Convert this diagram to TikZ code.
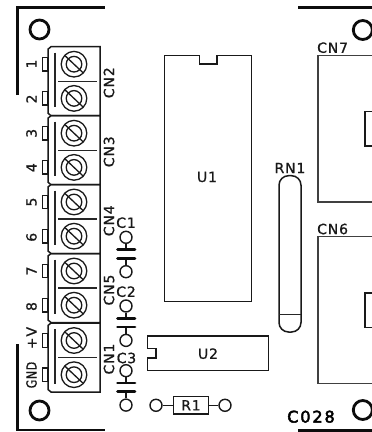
\documentclass[tikz,border=0pt]{standalone}
\usepackage{fontspec}
\setmainfont[LetterSpace=6,FakeBold=1]{DejaVu Sans}
\newfontfamily\boardfont[LetterSpace=12,FakeBold=3]{DejaVu Sans}
\tikzset{
  outline/.style={draw=black!90,line width=1.5pt},
  heavy/.style={draw=black!95,line width=2.8pt},
  thin part/.style={draw=black!85,line width=1.2pt},
  lbl/.style={inner sep=0pt,font=\fontsize{14}{15}\selectfont,text=black!90},
  vlbl/.style={lbl,rotate=90},
  pad/.style={circle,draw=black!90,line width=1.4pt,minimum size=12pt,inner sep=0pt},
  hole/.style={circle,draw=black!95,line width=2.8pt,minimum size=19pt,inner sep=0pt},
  plate/.style={draw=black!95,line width=2.8pt,line cap=round},
  stem/.style={draw=black!90,line width=1.4pt},
}
\begin{document}
\begin{tikzpicture}[x=1pt,y=-1pt]
\useasboundingbox (0,0) rectangle (372,432);
\clip (0,0) rectangle (372,432);
% board outline
\draw[heavy] (17.5,95) -- (17.5,7.5) -- (105,7.5);
\draw[heavy] (17.5,344) -- (17.5,430) -- (105,430);
\draw[heavy] (298,7.5) -- (372,7.5);
\draw[heavy] (298,430.5) -- (372,430.5);
\node[hole] (h1) at (39.5,29.5) {};
\node[hole] (h2) at (39.5,410.5) {};
\node[hole] (h3) at (362.8,30) {};
\node[hole] (h4) at (362.8,410) {};
% terminal blocks
\foreach \t in {46.7,115.7,184.5,253.5,323} {
  \draw[outline] (51,\t) -- (100,\t) -- (100,\t+69) -- (51,\t+69) -- (48,\t+66.5) -- (48,\t+2.5) -- cycle;
  \draw[thin part,line width=1.3pt] (55,\t+6) -- (55,\t+60.5);
  \draw[thin part] (58,\t+34.5) -- (97,\t+34.5);
  \foreach \d in {17.5,51.7} {
    \draw[outline,line width=1.3pt,fill=white] (42.5,\t+\d-6.7) rectangle (48,\t+\d+6.7);
    \draw[outline,line width=1.3pt] (74,\t+\d) circle (12.8);
    \draw[outline,line width=1.3pt] (74,\t+\d) circle (7.8);
    \draw[outline,line width=1.3pt] (65,\t+\d-8.5) -- (83,\t+\d+8.5);
  }
}
% terminal numbers
\node[vlbl] (n1) at (31.5,64) {1};
\node[vlbl] (n2) at (31.5,99) {2};
\node[vlbl] (n3) at (31.5,133.3) {3};
\node[vlbl] (n4) at (31.5,167.7) {4};
\node[vlbl] (n5) at (31.5,202) {5};
\node[vlbl] (n6) at (31.5,237.3) {6};
\node[vlbl] (n7) at (31.5,271) {7};
\node[vlbl] (n8) at (31.5,306.5) {8};
\node[vlbl] (nv) at (31.5,338) {+V};
\node[vlbl] (ng) at (31.5,375) {\scalebox{.78}[1]{GND}};
\node[vlbl] (cn2) at (109,82.7) {CN2};
\node[vlbl] (cn3) at (109,151.7) {CN3};
\node[vlbl] (cn4) at (109,220.7) {CN4};
\node[vlbl] (cn5) at (109,290) {CN5};
\node[vlbl] (cn1) at (109,359) {CN1};
% capacitors
\foreach \n/\o in {a/0,b/68.7,c/133.4} {
  \node[pad] (\n t) at (126,237.3+\o) {};
  \node[pad] (\n b) at (126,271.7+\o) {};
  \coordinate (\n p) at (126,249.5+\o);
  \coordinate (\n q) at (126,258.3+\o);
  \draw[stem] (\n t) -- (\n p);
  \draw[stem] (\n b) -- (\n q);
  \draw[plate] (117.5,249.5+\o) -- (135,249.5+\o);
  \draw[plate] (117.5,258.3+\o) -- (135,258.3+\o);
}
\node[lbl] (c1) at (126,222.7) {C1};
\node[lbl] (c2) at (126,291.7) {C2};
\node[lbl] (c3) at (126.5,358) {C3};
% U1
\draw[outline] (164.7,55.3) -- (199.3,55.3) -- (199.3,64) -- (217,64) -- (217,55.3) -- (251.3,55.3) -- (251.3,301.7) -- (164.7,301.7) -- cycle;
\node[lbl] (u1) at (207,177) {U1};
% RN1
\draw[outline,rounded corners=9.5pt] (279,175.7) rectangle (301,332);
\draw[thin part] (279,314.3) -- (301,314.3);
\node[lbl] (rn1) at (290,168) {RN1};
% U2
\draw[outline] (147.3,336) -- (268.3,336) -- (268.3,370.7) -- (147.3,370.7) -- (147.3,358) -- (156,358) -- (156,348.7) -- (147.3,348.7) -- cycle;
\node[lbl] (u2) at (208,353.7) {U2};
% R1
\node[draw=black!90,line width=1.5pt,minimum width=35pt,minimum height=17.3pt,inner sep=0pt,font=\fontsize{14}{15}\selectfont,text=black!90] (r1) at (191,405.3) {R1};
\node[pad] (ra) at (156,405.3) {};
\node[pad] (rb) at (225,405.3) {};
\draw[stem] (ra) -- (r1);
\draw[stem] (rb) -- (r1);
% CN7, CN6
\draw[draw=black!75,line width=1.4pt] (372,55.3) -- (318,55.3) -- (318,202) -- (372,202);
\draw[outline] (372,111.7) -- (365,111.7) -- (365,146) -- (372,146);
\node[lbl,anchor=west] (cn7) at (317,47.7) {CN7};
\draw[draw=black!75,line width=1.4pt] (372,236.7) -- (318,236.7) -- (318,383.7) -- (372,383.7);
\draw[outline] (372,293) -- (365,293) -- (365,327.3) -- (372,327.3);
\node[lbl,anchor=west] (cn6) at (317,229) {CN6};
\node[lbl,font=\boardfont\fontsize{16}{17}\selectfont,text=black] (c028) at (311,416.7) {C028};
\end{tikzpicture}
\end{document}
